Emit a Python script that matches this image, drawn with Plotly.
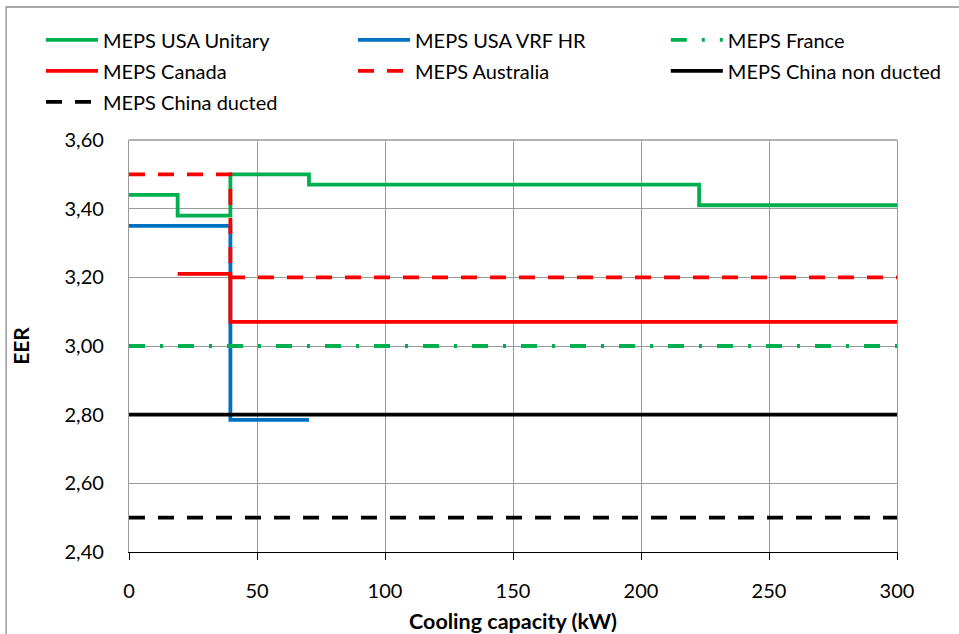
import plotly.graph_objects as go

# Minimum energy performance standards (EER) against cooling capacity (kW)
usa_unitary_x = [0, 19.0, 39.6, 70.3, 222.7, 300]
usa_unitary_y = [3.44, 3.38, 3.50, 3.47, 3.41, 3.41]

usa_vrf_x = [0, 39.6, 70.3]
usa_vrf_y = [3.35, 2.785, 2.785]

france_x = [0, 300]
france_y = [3.00, 3.00]

canada_x = [19.0, 39.6, 300]
canada_y = [3.21, 3.07, 3.07]

australia_x = [0, 39.6, 300]
australia_y = [3.50, 3.20, 3.20]

china_nd_x = [0, 300]
china_nd_y = [2.80, 2.80]

china_d_x = [0, 300]
china_d_y = [2.50, 2.50]

x_ticks = [0, 50, 100, 150, 200, 250, 300]
y_ticks = [2.40, 2.60, 2.80, 3.00, 3.20, 3.40, 3.60]

GREEN = "#00B050"
BLUE = "#0070C0"
RED = "#FF0000"
BLACK = "#000000"
GRID = "#9a9a9a"
FONT = "Lato"
LW = 3.8

# name, x, y, colour, dash, legend column
series = [
    ("MEPS USA Unitary", usa_unitary_x, usa_unitary_y, GREEN, "solid", "legend"),
    ("MEPS USA VRF HR", usa_vrf_x, usa_vrf_y, BLUE, "solid", "legend2"),
    ("MEPS France", france_x, france_y, GREEN, "16px,15px,3px,15px", "legend3"),
    ("MEPS Canada", canada_x, canada_y, RED, "solid", "legend"),
    ("MEPS Australia", australia_x, australia_y, RED, "16px,13px", "legend2"),
    ("MEPS China non ducted", china_nd_x, china_nd_y, BLACK, "solid", "legend3"),
    ("MEPS China ducted", china_d_x, china_d_y, BLACK, "16px,13px", "legend"),
]

fig = go.Figure()
for name, xs, ys, color, dash, leg in series:
    fig.add_trace(go.Scatter(
        x=xs, y=ys, mode="lines", legend=leg,
        name=f'<span style="font-size:20px">{name}</span>',
        line=dict(color=color, width=LW, dash=dash, shape="hv"),
    ))

legend_style = dict(
    orientation="v", y=1.2927, xanchor="left", yanchor="top",
    itemwidth=52, font=dict(family=FONT, size=21.5), traceorder="normal",
    bgcolor="rgba(0,0,0,0)",
)

fig.update_layout(
    width=959, height=634,
    margin=dict(l=129, r=62, t=140, b=82, autoexpand=False),
    paper_bgcolor="white", plot_bgcolor="white",
    separators=", ",
    font=dict(family=FONT, size=20, color="black"),
    showlegend=True,
    legend=dict(x=-0.1146, **legend_style),
    legend2=dict(x=0.2917, **legend_style),
    legend3=dict(x=0.699, **legend_style),
    xaxis=dict(
        range=[0, 300], tickvals=x_ticks, ticks="outside", ticklen=7,
        tickcolor="black", tickwidth=1.3,
        showline=True, linecolor="black", linewidth=1.3,
        showgrid=True, gridcolor=GRID, gridwidth=1.3, zeroline=False,
        ticklabelstandoff=14,
        tickfont=dict(family=FONT, size=20),
        title=dict(text="<b>Cooling capacity (kW)</b>", standoff=12,
                   font=dict(family=FONT, size=21.5)),
    ),
    yaxis=dict(
        range=[2.40, 3.60], tickvals=y_ticks, tickformat=".2f",
        showgrid=True, gridcolor=GRID, gridwidth=1.3, zeroline=False,
        showline=True, linecolor=GRID, linewidth=1.3, mirror=True,
        ticks="", ticklabelstandoff=20,
        tickfont=dict(family=FONT, size=20),
        title=dict(text="<b>EER</b>", standoff=29,
                   font=dict(family=FONT, size=21)),
    ),
)

# outer chart frame (left and top edges fall inside the page)
fig.add_shape(type="rect", xref="paper", yref="paper",
              x0=-0.160, x1=1.2, y0=-0.3, y1=1.3228,
              line=dict(color="#8c8c8c", width=1.3), layer="below")
# top border of plot area
fig.add_shape(type="line", xref="x domain", yref="y domain",
              x0=0, x1=1, y0=1, y1=1,
              line=dict(color=GRID, width=1.3), layer="below")

fig.write_html("out.html")
